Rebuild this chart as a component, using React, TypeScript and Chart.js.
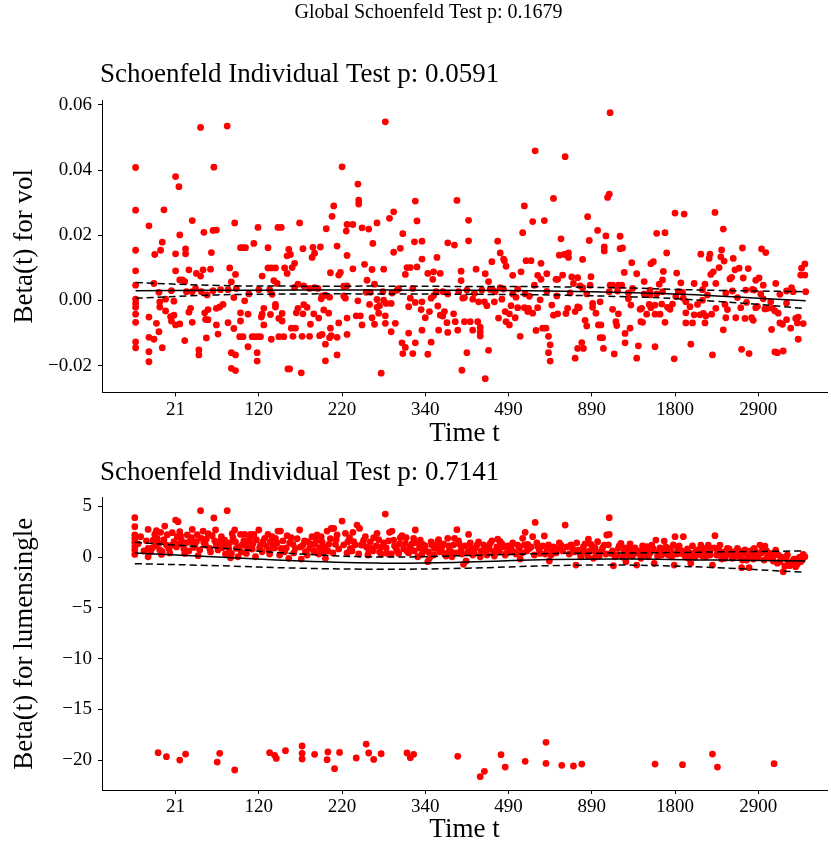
import React, { useEffect, useRef } from "react";
import { Chart, registerables } from "chart.js";
Chart.register(...registerables);

// x axis: transformed time; tick k (0..7) is labelled with tickTimes[k]
const tickTimes = [21, 120, 220, 340, 490, 890, 1800, 2900];
const globalTitle = "Global Schoenfeld Test p: 0.1679";
const volTitle = "Schoenfeld Individual Test p: 0.0591";
const lumTitle = "Schoenfeld Individual Test p: 0.7141";
const volTicks = [-0.02, 0, 0.02, 0.04, 0.06];
const lumTicks = [-20, -15, -10, -5, 0, 5];

const volPoints: [number, number][] = [
  [-0.48,0.0408],[-0.48,0.0277],[-0.48,0.0154],[-0.48,0.0091],[-0.48,0.0047],[-0.48,0.0004],[-0.48,-0.0009],[-0.48,-0.0021],[-0.48,-0.0042],[-0.48,-0.0067],[-0.48,-0.0127],[-0.48,-0.0145],
  [-0.32,0.0229],[-0.32,-0.0051],[-0.32,-0.0113],[-0.32,-0.0157],[-0.32,-0.0188],
  [-0.26,0.0052],[-0.26,-0.0119],[-0.25,0.0141],[-0.23,-0.007],[-0.2,0.0025],[-0.2,-0.0096],[-0.19,-0.002],[-0.19,-0.0004],[-0.18,0.0154],[-0.16,0.0179],[-0.16,-0.0145],[-0.14,0.0278],[-0.12,0.0004],[-0.12,-0.0032],
  [-0.06,-0.005],[-0.05,-0.0063],[-0.05,0.003],[-0.02,-0.0045],[-0.02,-0.0002],
  [0,0.038],[0,0.0143],[0,0.0091],[0,-0.0075],
  [0.04,0.0349],[0.05,0.0201],[0.05,0.0063],[0.05,-0.0072],[0.08,0.0063],[0.11,-0.0123],[0.11,0.0058],[0.12,0.0158],[0.12,0.0143],[0.13,0.0027],[0.16,0.0094],[0.16,-0.0036],[0.18,-0.0024],[0.2,0.0245],[0.2,-0.0067],[0.2,0.0027],[0.24,0.0037],[0.25,0.0083],[0.28,-0.0152],[0.28,-0.0167],[0.3,0.0531],[0.3,0.0075],[0.31,0.0027],[0.33,0.0094],[0.34,0.0209],[0.35,-0.0038],[0.36,-0.0058],[0.37,-0.0115],[0.38,0.0017],[0.39,-0.0059],[0.39,-0.0028],[0.42,0.0096],[0.43,0.0147],[0.45,0.003],[0.46,0.0409],[0.45,0.0215],[0.49,0.0216],[0.49,-0.0075],[0.49,-0.0024],[0.51,-0.0103],[0.53,-0.002],[0.54,0.0033],[0.57,-0.0012],[0.62,0.0535],[0.63,-0.0068],[0.63,0.0033],[0.65,0.01],[0.67,0.0057],[0.67,-0.016],[0.7,0.0009],[0.7,-0.0086],[0.71,0.0238],[0.72,0.008],[0.72,-0.0167],[0.67,-0.0208],[0.72,-0.0215],[0.73,0.0037],[0.77,-0.0111],[0.78,-0.0038],[0.78,-0.0063],[0.78,0.0162],[0.81,0.0162],[0.81,-0.0111],[0.83,-0.0001],[0.84,0.0162],[0.87,-0.0142],[0.88,0.002],[0.87,-0.0042],[0.92,-0.0111],[0.94,0.0175],[0.95,-0.0111],[0.98,-0.016],[0.98,-0.0186],[0.99,-0.0111],[0.99,0.0224],[1,0.0033],[1.02,-0.0111],[1.03,-0.0051],[1.04,-0.0042],[1.04,0.0075],[1.06,-0.0024],[1.06,-0.0075],[1.11,0.0162],[1.11,0.01],[1.13,0.0033],[1.14,-0.0043],[1.15,0.01],[1.15,-0.0119],[1.16,0.0019],[1.18,0.0061],[1.2,0.01],[1.2,-0.002],[1.2,-0.0012],[1.22,0.0052],[1.23,0.0224],[1.24,-0.0111],[1.27,0.0224],[1.24,-0.0055],[1.28,-0.004],[1.28,-0.0063],[1.31,0.01],
  [2.52,0.0548],[2,0.041],[2.19,0.0357],[2.2,0.0308],[2.2,0.0296],[1.9,0.029],[2.88,0.0305],[3.38,0.0307],[1.88,0.0258],[2.62,0.0272],[2.57,0.0252],[1.49,0.0238],[2.06,0.0233],[2.13,0.0233],[2.05,0.0213],[1.81,0.022],[2.24,0.0223],[2.32,0.0219],[2.42,0.0238],[1.94,0.0167],[2.37,0.0175],[2.73,0.0205],[2.87,0.018],[2.9,0.0244],[2.96,0.0182],[3.27,0.0177],[3.35,0.017],[2.62,0.0148],[2.7,0.016],[1.36,0.0157],[1.53,0.0159],[1.65,0.0163],[1.74,0.0164],[1.34,0.0137],[1.38,0.0141],[1.64,0.0132],[1.67,0.0145],[2.06,0.0138],[2.96,0.0127],[3.14,0.0132],[1.4,0.0101],[1.43,0.0114],[1.34,0.0083],[1.86,0.0085],[1.98,0.0086],[1.96,0.0078],[2.13,0.0097],[2.27,0.0111],[2.36,0.0095],[2.5,0.0096],[2.78,0.0101],[2.82,0.0101],[2.9,0.0103],[2.76,0.008],[3.03,0.0083],[3.1,0.0088],[3.18,0.0083],[3.09,0.0065],[3.43,0.009],[2.3,0.0062],[2.39,0.005],[1.43,0.004],[1.47,0.005],[1.54,0.0045],[1.61,0.0037],[1.67,0.0039],[1.71,0.0037],[2.02,0.0044],[2.06,0.0045],[2.29,0.0025],[2.34,0.0025],[2.49,0.0027],[2.6,0.0023],[2.66,0.0031],[2.68,0.0036],[2.85,0.0037],[3.21,0.0027],[3.27,0.002],[3.4,0.0027],[3.43,0.0061],
  [1.45,-0.0038],[1.47,-0.0024],[1.54,-0.0013],[1.58,-0.0021],[1.53,-0.0041],[1.66,-0.0041],[1.72,-0.0054],[1.75,0.0005],[1.76,0.0014],[1.8,0.0016],[1.85,0.001],[1.78,-0.0029],[1.84,-0.0039],[2.02,0.0014],[2.04,0.0007],[2.06,-0.0054],[2.19,-0.0001],[2.17,-0.0047],[2.22,-0.0047],[2.33,-0.0012],[2.36,-0.0053],[2.42,0.0003],[2.42,-0.0021],[2.45,-0.0016],[2.44,-0.0039],[2.5,0.0001],[2.53,-0.0009],[2.52,-0.0047],[2.59,-0.0009],[2.39,-0.0073],[2.52,-0.007],[2.59,-0.0096],[2.64,-0.007],[2.24,-0.0075],[2.06,-0.0104],[1.96,-0.0069],[1.62,-0.0073],[1.39,-0.0085],[1.44,-0.0085],[1.3,-0.0111],[1.41,-0.011],[1.52,-0.011],[1.61,-0.011],[1.73,-0.0108],[1.76,-0.0104],[1.85,-0.0114],[1.87,-0.0108],[1.94,-0.0113],[1.8,-0.0134],[1.86,-0.0085],[2.72,-0.013],[2.76,-0.0144],[2.8,-0.01],[2.88,-0.013],[2.96,-0.0091],[3.07,-0.0128],[3.03,-0.0165],[2.73,-0.0163],[2.85,-0.0163],[2.96,-0.0004],[2.88,-0.0006],[2.82,0.0007],[2.8,-0.0019],[2.95,-0.0028],[3,-0.0053],[3.05,-0.0034],[3.07,0.0007],[3.1,0.0015],[3.13,0.0027],[3.15,-0.0017],[3.18,-0.0045],[3.21,-0.0048],[3.23,-0.0034],[3.26,-0.0068],[3.27,-0.0098],[3.34,-0.0041],[3.36,-0.0065],[3.39,-0.0091],[3.16,-0.0091],[3.45,0.0007],[3.44,-0.0214],[1.8,-0.0185],[1.94,-0.0167],[1.35,-0.021],[1.37,-0.021],[1.51,-0.0222],[2.47,-0.0223],
  [5.22,0.0576],[4.32,0.0459],[4.68,0.0441],[4.54,0.0313],[5.19,0.0316],[5.21,0.0326],[4.19,0.029],[3.52,0.0246],[4.29,0.0242],[4.43,0.0245],[4.95,0.0257],[3.52,0.0183],[3.87,0.0182],[4.17,0.0208],[4.63,0.0189],[4.97,0.0184],[5.07,0.0215],[5.17,0.0198],[5.15,0.0164],[5.15,0.0152],[5.34,0.0197],[5.34,0.0159],[5.37,0.0161],[3.9,0.0146],[3.8,0.0119],[3.94,0.0127],[3.95,0.0122],[3.97,0.0105],[4.21,0.0122],[4.27,0.0122],[4.39,0.0114],[4.61,0.0139],[4.67,0.0141],[4.72,0.0146],[4.72,0.0132],[4.89,0.0126],[5.48,0.0116],[3.61,0.0096],[3.72,0.0082],[3.76,0.0058],[4.05,0.0077],[4.15,0.0088],[4.35,0.0077],[4.39,0.0065],[4.46,0.0082],[4.57,0.0065],[4.59,0.0065],[4.65,0.0078],[4.76,0.0072],[4.83,0.007],[4.78,0.0052],[4.99,0.0073],[5.39,0.0086],[5.54,0.0082],[4.31,0.0047],[4.86,0.0045],[4.89,0.0039],[4.98,0.0047],[5.22,0.0047],[5.25,0.0047],[5.32,0.0047],[5.36,0.0047],[3.5,0.0032],[3.59,0.0022],[3.68,0.0032],[3.78,0.0034],[3.81,0.0032],[3.84,0.0027],[3.9,0.0039],[3.94,0.0035],[4.11,0.0035],[4.46,0.0028],[4.58,0.0014],[4.74,0.0023],[4.94,0.002],[5.21,0.0027],[5.31,0.0029],[5.44,0.0023],[5.49,0.0037],
  [3.57,0.0004],[3.64,-0.0004],[3.71,-0.0004],[3.74,-0.0016],[3.83,-0.0004],[3.92,0.0004],[4.09,0.001],[4.05,0.002],[4.2,0.002],[4.25,0.0013],[3.47,0.0009],[4.03,-0.0016],[4.11,-0.0022],[4.19,-0.0022],[4.24,-0.0024],[4.23,-0.0034],[4.29,-0.0039],[4.35,-0.0022],[4.38,0.0002],[4.52,-0.0014],[4.54,-0.0045],[4.59,-0.0041],[4.71,-0.0024],[4.69,-0.004],[4.8,-0.0034],[4.83,-0.002],[4.85,-0.0022],[5.01,-0.0021],[5.01,-0.0009],[5.05,-0.0039],[5.1,-0.0004],[5.25,-0.0027],[5.32,-0.0041],[5.44,0.0005],[5.47,-0.0014],[5.58,-0.0027],[3.54,-0.0065],[3.63,-0.0065],[3.66,-0.0082],[3.66,-0.0096],[3.66,-0.0109],[3.57,-0.0091],[3.47,-0.0065],[3.88,-0.0054],[3.96,-0.0034],[4.01,-0.0041],[3.97,-0.0065],[4.01,-0.0075],[4.08,-0.0053],[4.14,-0.011],[4.33,-0.0092],[4.41,-0.0085],[4.45,-0.0085],[4.48,-0.011],[4.5,-0.0136],[4.48,-0.016],[4.5,-0.0186],[4.92,-0.0061],[4.94,-0.0078],[4.88,-0.0129],[4.83,-0.0147],[4.9,-0.0147],[4.8,-0.0177],[5.08,-0.0075],[5.11,-0.0075],[5.1,-0.0114],[5.13,-0.0114],[5.14,-0.0147],[5.27,-0.0164],[5.29,-0.0065],[5.3,-0.0077],[5.4,-0.0101],[5.4,-0.013],[5.46,-0.0085],[5.56,-0.0139],[5.54,-0.0177],[5.59,-0.0065],[3.5,-0.016],[3.76,-0.0153],[3.72,-0.024],
  [6,0.0268],[6.11,0.0265],[6.48,0.027],[6.58,0.0219],[5.78,0.0206],[5.88,0.0208],[5.9,0.0146],[6.31,0.0142],[6.42,0.0142],[6.41,0.0129],[6.56,0.0155],[6.55,0.0134],[6.59,0.0121],[6.81,0.0161],[6.7,0.0129],[7.04,0.0158],[7.09,0.0147],[5.71,0.0113],[5.74,0.0119],[5.86,0.0089],[5.85,0.0063],[5.81,0.005],[6.02,0.0084],[6.07,0.0054],[6.23,0.0052],[6.36,0.005],[6.43,0.008],[6.46,0.0088],[6.53,0.0101],[6.49,0.0052],[6.66,0.0066],[6.68,0.0071],[6.72,0.0094],[6.77,0.0099],[6.88,0.0098],[6.82,0.0069],[6.97,0.0062],[7.01,0.0069],[7.06,0.0047],[7.21,0.0052],[7.51,0.0078],[7.52,0.0099],[7.56,0.0112],[7.56,0.0078],[5.63,0.0058],[5.7,0.0032],[5.63,0.002],[5.78,0.002],[5.7,0.0017],[5.85,0.0027],[6.04,0.0027],[6.09,0.0025],[6.33,0.0033],[6.39,0.0017],[6.61,0.0023],[6.69,0.0029],[6.85,0.0032],[6.93,0.0034],[6.95,0.0032],[7.03,0.002],[7.26,0.0019],[7.34,0.0029],[7.4,0.0039],[7.42,0.0027],[7.57,0.0027],
  [5.6,-0.0024],[5.69,-0.0012],[5.71,-0.0022],[5.76,-0.0014],[5.66,-0.0042],[5.76,-0.0042],[5.82,-0.0042],[5.84,-0.0011],[5.91,-0.0021],[5.94,-0.0027],[5.97,-0.0011],[6.01,0.0012],[6.1,0.0007],[6.13,-0.0004],[6.18,-0.0019],[6.27,-0.0012],[6.33,0.0001],[6.13,-0.0038],[6.23,-0.0044],[6.3,-0.0044],[6.34,-0.004],[6.37,-0.0048],[6.44,-0.0042],[6.49,-0.0024],[6.6,-0.0012],[6.63,-0.0028],[6.61,-0.0053],[6.73,-0.0053],[6.75,0.0009],[6.79,-0.0022],[6.86,-0.0006],[6.84,-0.0055],[6.92,-0.0053],[6.94,-0.0061],[6.97,-0.0022],[6.99,-0.0018],[7.06,0.0005],[7.08,-0.0026],[7.11,-0.0024],[7.15,-0.0004],[7.17,-0.0024],[7.2,-0.0032],[7.24,-0.0039],[7.26,-0.0069],[7.29,-0.0073],[7.34,-0.0008],[7.34,-0.0059],[7.39,-0.0085],[7.45,-0.0055],[7.48,-0.0051],[7.47,-0.0069],[7.54,-0.0071],[7.48,-0.0119],[7.16,-0.0089],[6.58,-0.009],[6.13,-0.0069],[6.21,-0.0069],[6.36,-0.0069],[5.61,-0.0067],[5.88,-0.0067],[6.19,-0.0134],[5.76,-0.0142],[5.99,-0.0179],[6.45,-0.0167],[6.8,-0.015],[6.89,-0.0163],[7.2,-0.0158],[7.23,-0.016],[7.3,-0.0155],
];

const lumPoints: [number, number][] = [
  [-0.49,3.87],[-0.49,2.99],[-0.49,2.17],[-0.49,1.84],[-0.49,1.44],[-0.49,1.02],[-0.49,0.69],[-0.49,0.26],
  [-0.33,2.72],[-0.33,0.85],[-0.33,0.03],[-0.3,0.52],[-0.27,1.67],[-0.25,2.23],[-0.24,1.12],[-0.22,1.84],[-0.2,1.35],[-0.18,2.43],[-0.16,0.52],[-0.17,0.26],
  [-0.13,3.05],[-0.11,1.18],[-0.08,0.85],[-0.06,1.12],[-0.02,1.51],
  [0,3.64],[0.03,3.48],[0.02,2],[0.05,2.49],[0.07,1.67],[0.09,1.18],[0.11,0.36],[0.14,2.17],[0.17,1.51],
  [0.2,2.72],[0.22,0.95],[0.25,1.51],[0.27,0.13],[0.3,4.56],[0.31,1.84],[0.33,2.56],[0.36,1.18],[0.37,1.77],[0.41,0.85],
  [0.44,2.1],[0.46,3.84],[0.48,2.66],[0.49,1.18],[0.53,1.51],[0.56,0.92],[0.59,1.67],[0.62,4.56],[0.64,0.85],[0.66,-0.07],[0.67,0.36],[0.69,1.9],[0.71,2.66],[0.73,0.85],[0.75,0.03],[0.78,2.23],[0.8,1.18],[0.83,2.23],[0.85,0.36],[0.87,1.51],[0.9,2.23],[0.92,0.79],[0.94,2.23],[0.96,0.03],[1,2.66],[1.02,1.18],[1.04,0.52],[1.07,1.84],[1.11,2.23],[1.12,0.69],[1.14,1.51],[1.17,1.18],[1.2,1.84],[1.23,2.56],[1.26,2.56],[1.27,0.85],[1.31,0.52],[1.34,2.1],[1.36,-0.13],[1.39,1.9],[1.41,1.25],[1.44,0.85],[1.49,2.66],[1.51,-0.2],[1.53,1.18],[1.56,0.52],[1.59,1.51],[1.61,0.85],[1.64,2],[1.67,1.25],[1.7,2.17],[1.73,0.92],[1.75,2],[1.78,0.46],[1.8,-0.13],[1.82,2.56],[1.84,1.25],[1.87,2.82],[1.9,2.82],[1.92,1.25],[1.94,2.17],
  [2,3.54],[2.04,2.33],[2.07,1.51],[2.1,0.85],[2.13,2.43],[2.14,1.51],[2.18,3.15],[2.21,2.82],[2.23,1.18],[2.26,1.67],[2.29,1.02],[2.32,0.69],[2.35,0.85],[2.38,1.9],[2.42,2.33],[2.45,0.52],[2.48,1.02],[2.52,4.23],[2.54,0.36],[2.57,2.43],[2.6,2.56],[2.62,1.67],[2.65,0.85],[2.68,0.36],[2.7,1.9],[2.72,2.1],[2.76,1.35],[2.78,0.59],[2.82,1.02],[2.86,1.84],[2.88,2.66],[2.91,0.03],[2.94,1.67],[2.97,1.25],[2.99,0.69],[3.03,-0.46],[3.05,-0.13],[3.08,1.18],[3.11,0.85],[3.15,1.51],[3.17,0.52],[3.2,1.02],[3.23,0.36],[3.27,1.84],[3.29,0.69],[3.32,0.03],[3.35,1.84],[3.38,2.69],[3.41,1.25],[3.43,0.69],[3.46,-0.72],[3.49,-0.39],[3.52,2.23],[3.55,0.85],[3.59,0.36],[3.62,1.18],[3.66,0.03],[3.69,0.52],[3.72,1.02],[3.75,0.85],[3.78,1.35],[3.82,0.36],[3.84,0.59],[3.87,1.77],[3.9,1.51],[3.94,1.02],[3.97,0.36],[4,0.85],[4.03,1.02],[4.06,0.52],[4.11,1.18],[4.14,-0.2],[4.17,1.84],[4.2,2.43],[4.23,1.25],[4.25,0.85],[4.29,2],[4.32,3.41],[4.35,1.02],[4.38,0.36],[4.43,2.07],[4.46,0.85],[4.49,-0.39],[4.52,0.52],[4.55,0.69],[4.59,0.85],[4.63,1.18],[4.68,3.15],
  [4.77,0.85],[4.81,-0.79],[4.84,0.69],[4.87,0.03],[4.9,1.02],[4.93,0.52],[4.96,1.77],[4.99,1.25],[5.02,-0.13],[5.05,0.36],[5.07,1.51],[5.11,0.52],[5.15,1.18],[5.18,2.17],[5.21,3.87],[5.21,2.23],[5.23,0.36],[5.26,-0.85],[5.28,0.03],[5.32,0.85],[5.35,1.35],[5.39,0.52],[5.41,-0.46],[5.44,0.2],[5.47,0.85],[5.5,0.69],[5.54,-0.79],[5.56,0.36],[5.59,-0.13],[5.62,0.52],[5.66,1.02],[5.68,0.03],[5.72,1.18],[5.75,-0.62],[5.77,1.67],[5.81,0.52],[5.84,0.2],[5.87,1.57],[5.9,0.36],[5.93,0.85],[5.96,0.03],[5.99,-0.79],[6,2],[6.03,0.85],[6.06,0.36],[6.1,2],[6.13,0.52],[6.16,-0.13],[6.19,-0.62],[6.22,0.03],[6.25,0.52],[6.28,0.26],[6.31,1.18],[6.34,0.85],[6.37,0.03],[6.4,1.18],[6.43,0.85],[6.45,-0.79],[6.48,2.1],[6.51,0.69],[6.54,1.18],[6.57,0.36],[6.6,-0.13],[6.63,0.85],[6.66,0.36],[6.69,-0.13],[6.72,0.52],[6.75,0.85],[6.78,0.03],[6.8,-1.05],[6.83,0.36],[6.86,-0.3],[6.89,-1.05],[6.92,0.36],[6.95,0.85],[6.98,0.03],[7.02,1.18],[7.05,0.69],[7.08,1.08],[7.11,0.03],[7.15,0.36],[7.18,-0.39],[7.21,0.69],[7.24,0.2],[7.26,-0.46],[7.3,-1.44],[7.33,-0.13],[7.36,-0.62],[7.38,-0.85],[7.41,-0.39],[7.45,-0.95],[7.48,-0.13],[7.51,-0.46],[7.54,0.26],[7.56,0.03],
  // denser part of the band near the fitted line
  [-0.45,1.3],[-0.42,2.0],[-0.38,0.6],[-0.35,1.6],[-0.28,0.9],[-0.23,2.6],[-0.19,0.7],[-0.14,1.7],[-0.1,2.2],[-0.07,0.4],[-0.04,2.4],[0.01,1.0],[0.04,1.3],[0.06,2.1],[0.1,0.8],[0.13,1.4],[0.16,0.6],[0.19,1.9],[0.23,1.2],[0.26,2.2],[0.29,0.7],[0.34,1.4],[0.39,2.3],[0.42,0.5],[0.47,1.6],[0.51,0.7],[0.55,2.0],[0.58,1.2],[0.6,0.3],[0.65,1.4],[0.68,2.3],[0.72,1.5],[0.76,1.0],[0.79,0.5],[0.82,1.6],[0.86,1.0],[0.89,1.8],[0.93,1.3],[0.97,1.7],[1.01,0.9],[1.05,1.5],[1.09,1.1],[1.13,0.3],[1.16,2.0],[1.19,0.9],[1.22,1.4],[1.25,0.2],[1.29,1.6],[1.33,0.9],[1.37,1.4],[1.42,0.4],[1.46,1.8],[1.5,1.0],[1.55,1.6],[1.58,0.2],[1.62,1.3],[1.66,0.6],[1.69,1.6],[1.72,0.3],[1.76,1.5],[1.79,1.0],[1.83,0.6],[1.86,1.8],[1.89,0.4],[1.93,1.7],[1.96,0.8],
  [2.02,1.2],[2.06,0.4],[2.09,1.9],[2.12,0.6],[2.16,1.2],[2.2,0.3],[2.25,1.4],[2.28,2.0],[2.31,0.2],[2.34,1.5],[2.37,0.6],[2.41,1.1],[2.44,1.7],[2.47,0.3],[2.5,1.4],[2.53,0.9],[2.56,1.6],[2.59,0.3],[2.63,1.1],[2.66,0.6],[2.69,1.3],[2.74,0.8],[2.77,1.9],[2.8,0.4],[2.84,1.3],[2.87,0.6],[2.9,1.4],[2.93,0.9],[2.96,0.3],[3.0,1.1],[3.04,0.5],[3.07,1.5],[3.1,0.2],[3.13,1.0],[3.16,1.7],[3.19,0.6],[3.22,1.3],[3.25,0.1],[3.28,1.1],[3.31,0.5],[3.34,1.2],[3.37,0.4],[3.4,1.6],[3.44,0.3],[3.48,1.1],[3.51,0.5],[3.54,1.4],[3.57,0.2],[3.6,0.9],[3.64,1.5],[3.67,0.6],[3.7,1.2],[3.74,0.2],[3.77,0.8],[3.8,1.6],[3.83,0.1],[3.86,1.0],[3.89,0.6],[3.92,1.3],[3.96,0.2],[3.99,1.1],[4.02,0.5],[4.05,1.4],[4.09,0.3],[4.13,0.9],[4.16,0.4],[4.19,1.2],[4.22,0.6],[4.27,1.0],[4.31,0.2],[4.34,1.4],[4.37,0.7],[4.41,1.1],[4.44,0.3],[4.48,1.2],[4.51,0.2],[4.54,1.0],[4.57,0.4],[4.61,1.4],[4.65,0.6],[4.7,1.0],[4.73,0.3],
  [4.75,1.2],[4.79,0.5],[4.82,1.4],[4.86,0.3],[4.89,0.7],[4.92,1.3],[4.95,0.1],[4.98,0.6],[5.01,1.0],[5.04,0.9],[5.09,0.1],[5.13,0.9],[5.17,0.3],[5.2,1.2],[5.25,0.6],[5.3,0.2],[5.33,1.1],[5.37,0.0],[5.4,0.9],[5.43,0.6],[5.46,1.3],[5.49,0.1],[5.52,0.9],[5.58,0.6],[5.61,1.1],[5.64,0.2],[5.67,0.7],[5.7,0.4],[5.74,0.8],[5.79,0.1],[5.82,0.9],[5.86,0.5],[5.89,1.0],[5.92,0.2],[5.95,0.6],[5.98,1.2],[6.02,0.3],[6.05,1.1],[6.08,0.6],[6.12,0.1],[6.15,0.8],[6.18,0.4],[6.21,1.1],[6.24,0.0],[6.27,0.7],[6.3,0.4],[6.33,0.1],[6.36,0.7],[6.39,0.5],[6.42,0.2],[6.47,0.9],[6.5,0.2],[6.53,0.6],[6.56,-0.2],[6.59,0.5],[6.62,0.2],[6.65,0.8],[6.68,0.3],[6.71,0.0],[6.74,0.4],[6.77,0.6],[6.81,-0.3],[6.84,0.7],[6.88,0.1],[6.91,0.6],[6.94,-0.2],[6.97,0.5],[7.0,0.0],[7.04,0.4],[7.07,-0.3],[7.1,0.6],[7.13,0.2],[7.17,-0.1],[7.2,0.3],[7.23,-0.6],[7.28,0.0],[7.32,-0.9],[7.35,0.2],[7.4,-0.6],[7.43,-0.2],[7.47,-0.7],[7.5,0.0],[7.53,-0.3],
  // cluster near -20
  [-0.21,-19.26],[-0.11,-19.65],[0.05,-19.98],[0.12,-19.39],[0.5,-20.18],[0.53,-19.32],[0.71,-20.96],[1.13,-19.26],[1.19,-19.52],[1.21,-19.82],[1.32,-19.06],[1.52,-18.6],[1.52,-19.32],[1.52,-19.88],[1.67,-19.42],[1.82,-19.95],[1.83,-19.19],[1.91,-20.83],[1.97,-19.23],[2.17,-19.78],[2.29,-18.41],[2.32,-19.29],[2.38,-19.92],[2.47,-19.36],[2.78,-19.29],[2.82,-19.75],[2.86,-19.42],[3.39,-19.62],[3.66,-21.62],[3.71,-21.09],[3.91,-19.45],[3.96,-20.67],[4.2,-20.11],[4.45,-18.24],[4.45,-20.31],[4.64,-20.5],[4.78,-20.57],[4.88,-20.38],[5.76,-20.38],[6.09,-20.44],[6.45,-19.39],[6.51,-20.67],[7.19,-20.34],
];

// smoothed beta(t) with +/- 2 SE bands
const volFitX = [-0.48, 0.5, 1.5, 2.5, 3.5, 4.5, 5.5, 6.0, 6.5, 7.0, 7.57];
const volFit = [0.003, 0.0031, 0.0032, 0.0032, 0.0031, 0.0029, 0.0024, 0.002, 0.0014, 0.0007, -0.0001];
const volUpper = [0.0055, 0.0046, 0.0044, 0.0044, 0.0043, 0.0042, 0.0038, 0.0034, 0.0031, 0.0029, 0.0027];
const volLower = [0.0007, 0.0017, 0.002, 0.002, 0.0019, 0.0017, 0.0011, 0.0006, -0.0003, -0.0012, -0.0025];

const lumFitX = [-0.49, 0.5, 1.5, 2.5, 3.5, 4.5, 5.5, 6.5, 7.56];
const lumFit = [0.4, 0.0, -0.4, -0.6, -0.5, -0.25, -0.2, -0.3, -0.4];
const lumUpper = [1.45, 0.9, 0.3, 0.0, 0.15, 0.35, 0.4, 0.5, 0.6];
const lumLower = [-0.65, -0.85, -1.1, -1.2, -1.1, -0.85, -0.8, -1.05, -1.5];

const SERIF = '"Liberation Serif", "DejaVu Serif", serif';
const W = 831;

function fmt(v: number, d: number) {
  const s = Math.abs(v).toFixed(d);
  return v < 0 ? "\u2212" + s : s;
}

const textPlugin = {
  id: "panelText",
  afterDraw(chart: any, _a: any, opts: any) {
    const ctx = chart.ctx;
    (opts.items || []).forEach((it: any) => {
      ctx.save();
      ctx.font = `${it.size}px ${SERIF}`;
      ctx.fillStyle = "#000";
      ctx.textAlign = it.align;
      ctx.textBaseline = "middle";
      ctx.fillText(it.text, it.x, it.y);
      ctx.restore();
    });
  },
};

function buildConfig(p: any): any {
  const line = (ys: number[], dash: number[]) => ({
    type: "line",
    data: p.fitX.map((x: number, i: number) => ({ x, y: ys[i] })),
    borderColor: "#000",
    borderWidth: 1.5,
    borderDash: dash,
    pointRadius: 0,
    tension: 0.4,
    fill: false,
    order: 0,
  });
  const axisGrid = { display: true, drawOnChartArea: false, drawTicks: true, tickLength: 4, color: "#000", lineWidth: 1 };
  return {
    type: "scatter",
    data: {
      datasets: [
        line(p.fit, []),
        line(p.upper, [7, 4]),
        line(p.lower, [7, 4]),
        {
          type: "scatter",
          data: p.points.map(([x, y]: number[]) => ({ x, y })),
          backgroundColor: "#FF0000",
          borderColor: "#FF0000",
          borderWidth: 0,
          pointRadius: 3.4,
          order: 1,
        },
      ],
    },
    options: {
      responsive: false,
      animation: false,
      devicePixelRatio: 1,
      layout: { padding: { top: p.padTop, left: 0, right: 0, bottom: 0 } },
      plugins: { legend: { display: false }, tooltip: { enabled: false }, panelText: { items: p.texts } },
      scales: {
        x: {
          type: "linear",
          min: -0.884,
          max: 7.826,
          afterBuildTicks: (s: any) => { s.ticks = tickTimes.map((_, i) => ({ value: i })); },
          afterFit: (s: any) => { s.height = p.xHeight; },
          ticks: {
            autoSkip: false,
            maxRotation: 0,
            padding: 2,
            color: "#000",
            font: { family: SERIF, size: 19 },
            callback: (v: number) => String(tickTimes[Math.round(v)]),
          },
          grid: axisGrid,
          border: { display: true, color: "#000", width: 1 },
          title: { display: true, text: "Time t", color: "#000", font: { family: SERIF, size: 27 }, padding: { top: 0, bottom: p.xTitlePad } },
        },
        y: {
          type: "linear",
          min: p.yMin,
          max: p.yMax,
          afterBuildTicks: (s: any) => { s.ticks = p.yTicks.map((v: number) => ({ value: v })); },
          afterFit: (s: any) => { s.width = 102; },
          ticks: {
            autoSkip: false,
            padding: 6,
            color: "#000",
            font: { family: SERIF, size: 19 },
            callback: (v: number) => fmt(v, p.decimals),
          },
          grid: axisGrid,
          border: { display: true, color: "#000", width: 1 },
          title: { display: true, text: p.yTitle, color: "#000", font: { family: SERIF, size: 27 }, padding: { top: 9, bottom: 0 } },
        },
      },
    },
    plugins: [textPlugin],
  };
}

function Panel({ top, height, params }: { top: number; height: number; params: any }) {
  const ref = useRef<HTMLCanvasElement>(null);
  useEffect(() => {
    const chart = new Chart(ref.current as HTMLCanvasElement, buildConfig(params));
    return () => chart.destroy();
  }, []);
  return (
    <canvas
      ref={ref}
      width={W}
      height={height}
      style={{ position: "absolute", left: 0, top, width: W, height }}
    />
  );
}

export default function App() {
  const volParams = {
    points: volPoints, fitX: volFitX, fit: volFit, upper: volUpper, lower: volLower,
    yMin: -0.0282, yMax: 0.0615, yTicks: volTicks, decimals: 2, yTitle: "Beta(t) for vol",
    padTop: 100, xHeight: 57.6, xTitlePad: 0,
    texts: [
      { text: globalTitle, x: 428.5, y: 13, size: 20, align: "center" },
      { text: volTitle, x: 100, y: 75, size: 27, align: "left" },
    ],
  };
  const lumParams = {
    points: lumPoints, fitX: lumFitX, fit: lumFit, upper: lumUpper, lower: lumLower,
    yMin: -22.93, yMax: 5.87, yTicks: lumTicks, decimals: 0, yTitle: "Beta(t) for lumensingle",
    padTop: 47.4, xHeight: 56, xTitlePad: 0,
    texts: [{ text: lumTitle, x: 100, y: 23, size: 27, align: "left" }],
  };
  return (
    <div style={{ position: "absolute", left: 0, top: 0, width: W, height: 846, background: "#fff", overflow: "hidden" }}>
      <Panel top={0} height={450} params={volParams} />
      <Panel top={450} height={396} params={lumParams} />
    </div>
  );
}
